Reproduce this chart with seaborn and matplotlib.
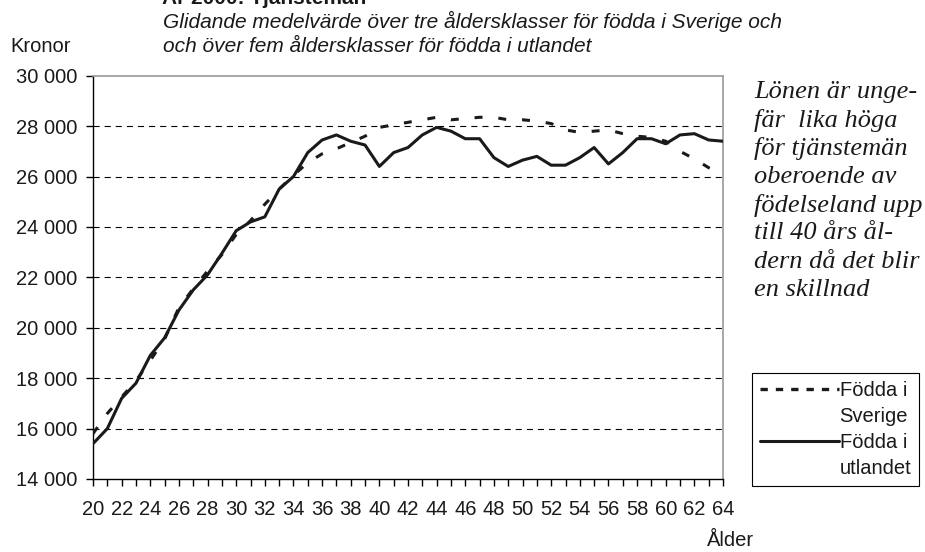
import numpy as np
import pandas as pd
import seaborn as sns
import matplotlib.pyplot as plt
from matplotlib.lines import Line2D

# Values
ages = list(range(20, 65))
fodda_sverige = [15800, 16600, 17250, 17900, 18700, 19550, 20800, 21550, 22250, 22900,
                 23700, 24250, 24900, 25500, 26050, 26550, 26900, 27100, 27350, 27600,
                 27950, 28050, 28150, 28250, 28350, 28250, 28300, 28350, 28350, 28250,
                 28250, 28200, 28100, 27850, 27750, 27800, 27850, 27700, 27600, 27550,
                 27400, 27000, 26700, 26350, 26100]
fodda_utlandet = [15400, 16000, 17200, 17800, 18900, 19600, 20700, 21500, 22100, 22950,
                  23850, 24200, 24400, 25500, 26000, 26950, 27450, 27650, 27400, 27250,
                  26400, 26950, 27150, 27650, 27950, 27800, 27500, 27500, 26750, 26400,
                  26650, 26800, 26450, 26450, 26750, 27150, 26500, 26950, 27500, 27500,
                  27300, 27650, 27700, 27450, 27400]
y_ticks = [14000, 16000, 18000, 20000, 22000, 24000, 26000, 28000, 30000]
x_tick_labels = [str(a) if a % 2 == 0 else "" for a in ages]

df = pd.DataFrame({"Ålder": ages, "Sverige": fodda_sverige, "Utlandet": fodda_utlandet})

sns.set_theme(style="white")
plt.rcParams["font.family"] = ["Liberation Sans", "DejaVu Sans"]

W, H = 925, 552
fig = plt.figure(figsize=(W / 100, H / 100), dpi=100)
ax = fig.add_axes([93 / W, 1 - 479 / H, (723 - 93) / W, (479 - 75.7) / H])

# horizontal dashed grid lines
for v in y_ticks[1:-1]:
    ax.axhline(v, color="black", lw=0.8, ls=(0, (5.5, 4.5)), zorder=1)

line_col = "#1a1a1a"
sns.lineplot(data=df, x="Ålder", y="Sverige", ax=ax, color=line_col, lw=2.2,
             zorder=3).lines[-1].set_dashes((2.6, 5.2))
sns.lineplot(data=df, x="Ålder", y="Utlandet", ax=ax, color=line_col, lw=2.2, zorder=4)

ax.set_xlim(20, 64)
ax.set_ylim(14000, 30000)
ax.set_xticks(ages)
ax.set_xticklabels(x_tick_labels)
ax.set_yticks(y_ticks)
ax.set_yticklabels([f"{v:,}".replace(",", " ") for v in y_ticks])
ax.set_xlabel("")
ax.set_ylabel("")
ax.tick_params(axis="both", direction="out", length=5, width=1, color="black",
               labelsize=14.5, labelcolor="#1a1a1a")
ax.tick_params(axis="x", pad=10)
ax.tick_params(axis="y", pad=6)
ax.xaxis.set_ticks_position("bottom")
ax.yaxis.set_ticks_position("left")

for side in ["left", "bottom"]:
    ax.spines[side].set_color("black")
    ax.spines[side].set_linewidth(1)
for side in ["top", "right"]:
    ax.spines[side].set_color("#999999")
    ax.spines[side].set_linewidth(1.2)

# legend: handle aligned with first label line
dash_handle = Line2D([], [], color=line_col, lw=2.4, dashes=(2.2, 2.4))
solid_handle = Line2D([], [], color=line_col, lw=2.2)
blank = Line2D([], [], color="none")
leg = ax.legend([dash_handle, blank, solid_handle, blank],
                ["Födda i", "Sverige", "Födda i", "utlandet"],
                loc="upper left", bbox_to_anchor=(752 / W, 1 - 373 / H),
                bbox_transform=fig.transFigure, frameon=True, fancybox=False,
                edgecolor="black", framealpha=1, fontsize=14.5, handlelength=3.9,
                handletextpad=0.05, labelspacing=0.35, borderpad=0.4, borderaxespad=0)
leg.get_frame().set_linewidth(0.8)
for t in leg.get_texts():
    t.set_color("#1a1a1a")

# texts
fig.text(162 / W, 1 + 3 / H, "År 2000: Tjänstemän", fontsize=15, fontweight="bold",
         ha="left", va="center", color="#1a1a1a")
fig.text(163 / W, 1 - 21 / H,
         "Glidande medelvärde över tre åldersklasser för födda i Sverige och",
         fontsize=15, style="italic", ha="left", va="center", color="#1a1a1a")
fig.text(163 / W, 1 - 47 / H, "och över fem åldersklasser för födda i utlandet",
         fontsize=15, style="italic", ha="left", va="center", color="#1a1a1a")
fig.text(10 / W, 1 - 47 / H, "Kronor", fontsize=14.5, ha="left", va="center",
         color="#1a1a1a")
fig.text(707 / W, 1 - 540 / H, "Ålder", fontsize=14.5, ha="left", va="center",
         color="#1a1a1a")

note = ["Lönen är unge-", "fär  lika höga", "för tjänstemän", "oberoende av",
        "födelseland upp", "till 40 års ål-", "dern då det blir", "en skillnad"]
for i, line in enumerate(note):
    fig.text(754 / W, 1 - (92 + i * 28.3) / H, line, fontsize=19, style="italic",
             family=["Liberation Serif", "DejaVu Serif"], ha="left", va="center",
             color="#1a1a1a")

fig.savefig("out.png", dpi=100)
